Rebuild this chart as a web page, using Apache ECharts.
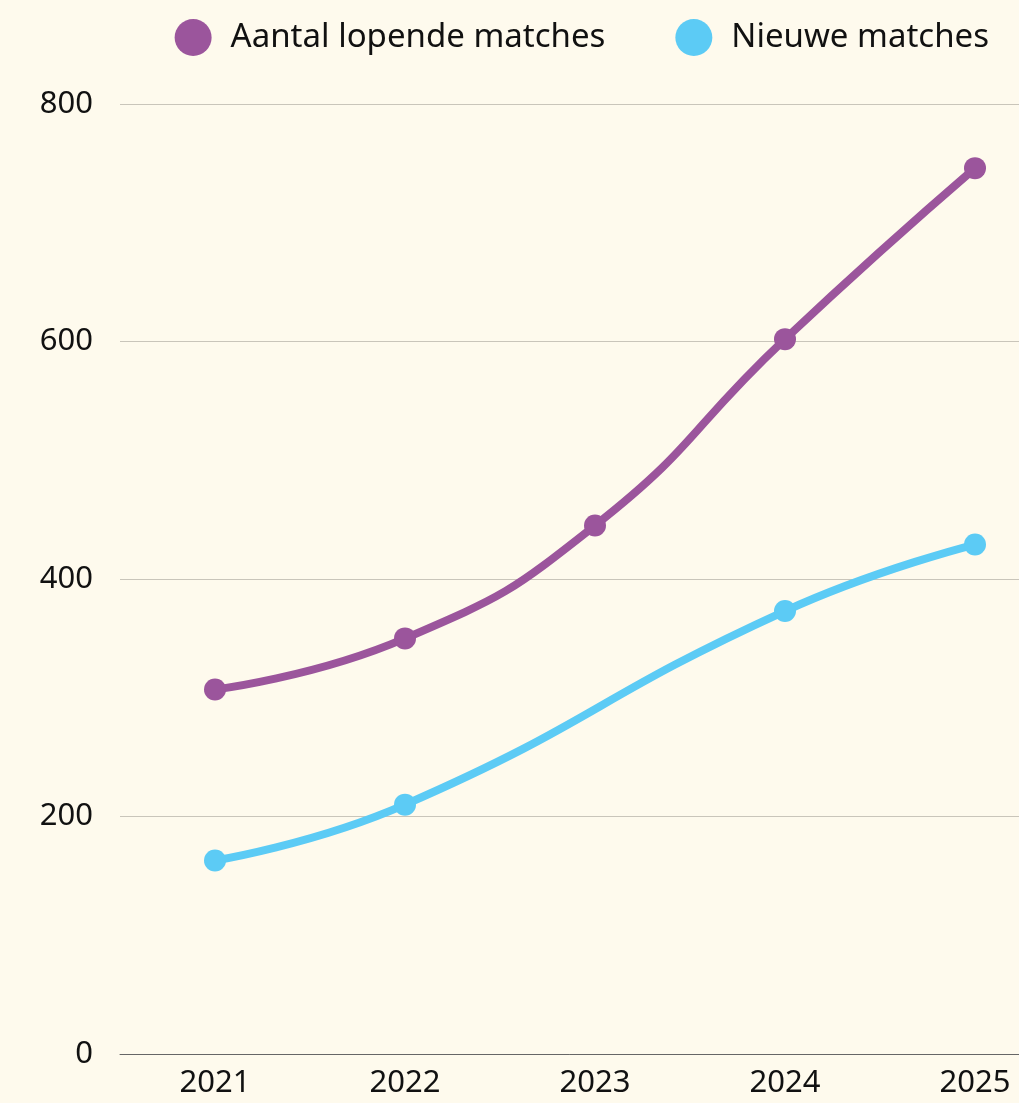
<!DOCTYPE html>
<html>
<head>
<meta charset="utf-8">
<script src="https://cdn.jsdelivr.net/npm/echarts@6/dist/echarts.min.js"></script>
<style>
  html, body { margin: 0; padding: 0; background: #fefaed; }
  #chart { width: 1019px; height: 1103px; }
</style>
</head>
<body>
<div id="chart"></div>
<script>
const years = ['2021', '2022', '2023', '2024', '2025']
const lopende = [307, 350, 445, 602, 746]
const nieuwe = [163, 210, null, 373, 429]
const yTicks = [0, 200, 400, 600, 800]

const chart = echarts.init(document.getElementById('chart'))

const font = '"Noto Sans", sans-serif'

var option = {
  backgroundColor: '#fefaed',
  legend: {
    top: 14,
    right: 25,
    itemWidth: 37,
    itemHeight: 37,
    itemGap: 70,
    icon: 'circle',
    textStyle: { fontFamily: font, fontSize: 33, color: '#111', padding: [0, 0, 0, 14] },
    data: ['Aantal lopende matches', 'Nieuwe matches']
  },
  grid: {
    left: 120,
    top: 104,
    bottom: 49,
    width: 950,   // runs past the right edge, like the reference
    outerBoundsMode: 'none',
    containLabel: false
  },
  xAxis: {
    type: 'category',
    data: years,
    boundaryGap: true,
    axisLine: { lineStyle: { color: '#666', width: 1 } },
    axisTick: { show: false },
    axisLabel: { fontFamily: font, fontSize: 31, color: '#111', margin: 14 }
  },
  yAxis: {
    type: 'value',
    min: yTicks[0],
    max: yTicks[yTicks.length - 1],
    interval: 200,
    axisLine: { show: false },
    axisTick: { show: false },
    splitLine: { lineStyle: { color: '#c9c5ba', width: 1 } },
    axisLabel: { fontFamily: font, fontSize: 31, color: '#111', margin: 27 }
  },
  series: [{
    name: 'Aantal lopende matches',
    type: 'line',
    smooth: true,
    data: lopende,
    symbol: 'circle',
    symbolSize: 22,
    lineStyle: { width: 8, color: '#9b559c' },
    itemStyle: { color: '#9b559c' }
  }, {
    name: 'Nieuwe matches',
    type: 'line',
    smooth: true,
    connectNulls: true,
    data: nieuwe,
    symbol: 'circle',
    symbolSize: 22,
    lineStyle: { width: 8, color: '#5ccbf5' },
    itemStyle: { color: '#5ccbf5' }
  }]
}

chart.setOption(option)
</script>
</body>
</html>
